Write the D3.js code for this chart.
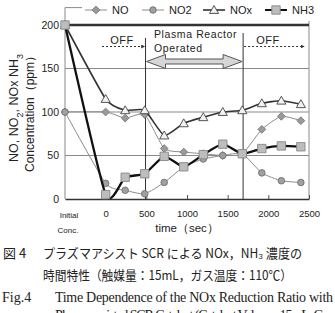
<!DOCTYPE html>
<html>
<head>
<meta charset="utf-8">
<script src="https://cdn.jsdelivr.net/npm/d3@7"></script>
<style>
body { margin: 0; background: #fff; }
svg text { font-family: "Liberation Sans", Arial, sans-serif; fill: #222; }
.cap { font-family: "Liberation Serif", "Noto Sans CJK JP", serif; }
.jp { font-family: "Noto Sans CJK JP", sans-serif; }
</style>
</head>
<body>
<svg id="chart" width="335" height="313"></svg>
<script>
// time in sec, -500 stands for "Initial Conc."
const times = [-500, 0, 240, 480, 720, 960, 1200, 1440, 1680, 1920, 2160, 2400];
const no   = [100, 100, 93, 97, 58, 54, 52, 50, 52, 80, 95, 90];
const no2  = [100, 18, 10, 6, 19, 37, 46, 50, 52, 30, 21, 19];
const nox  = [200, 115, 102, 102, 73, 87, 94, 100, 102, 110, 113, 109];
const nh3  = [200, 5, 25, 29, 49, 37, 51, 63, 52, 58, 61, 60];
const seriesNames = ["NO", "NO2", "NOx", "NH3"];
const xTicks = [0, 500, 1000, 1500, 2000, 2500];
const yTicks = [0, 50, 100, 150, 200];
const plasmaOn = [490, 1690];

const svg = d3.select("#chart");
const x = d3.scaleLinear().domain([-500, 2500]).range([65, 309]);
const y = d3.scaleLinear().domain([0, 220]).range([199, 7.6]);

const styles = {
    NO:  { line: "#8c8c8c", lw: 1,   sym: "diamond",  fill: "#9a9a9a", stroke: "#7a7a7a" },
    NO2: { line: "#8c8c8c", lw: 1,   sym: "circle",   fill: "#a0a0a0", stroke: "#707070" },
    NOx: { line: "#333",    lw: 1.6, sym: "triangle", fill: "#f2f2f2", stroke: "#444" },
    NH3: { line: "#111",    lw: 2.3, sym: "square",   fill: "#bdbdbd", stroke: "#888" }
};
const values = { NO: no, NO2: no2, NOx: nox, NH3: nh3 };

function symbolPath(kind) {
    if (kind === "diamond") return d3.symbol(d3.symbolSquare, 30)();
    if (kind === "circle") return d3.symbol(d3.symbolCircle, 34)();
    if (kind === "triangle") return d3.symbol(d3.symbolTriangle, 36)();
    return d3.symbol(d3.symbolSquare, 70)();
}
function symbolTransform(kind, px, py) {
    var t = "translate(" + px + "," + py + ")";
    if (kind === "diamond") t += " rotate(45)";
    if (kind === "triangle") t = "translate(" + px + "," + (py + 0.8) + ")";
    return t;
}

// frame
svg.append("path")
    .attr("d", "M" + x(-500) + "," + y(0) + "V" + y(220) + "H" + x(2500) + "V" + y(0))
    .attr("fill", "none").attr("stroke", "#8a8a8a").attr("stroke-width", 1);

// grid
svg.append("g").selectAll("line")
    .data(yTicks.filter(function (d) { return d > 0; }))
    .enter().append("line")
    .attr("x1", x(-500)).attr("x2", x(2500))
    .attr("y1", function (d) { return y(d); }).attr("y2", function (d) { return y(d); })
    .attr("stroke", function (d) { return d === 200 ? "#333" : "#8a8a8a"; })
    .attr("stroke-width", function (d) { return d === 200 ? 2.6 : 1.2; });

// plasma on/off boundaries
svg.append("line").attr("x1", x(plasmaOn[0])).attr("x2", x(plasmaOn[0]))
    .attr("y1", 38).attr("y2", y(0)).attr("stroke", "#333").attr("stroke-width", 1);
svg.append("line").attr("x1", x(plasmaOn[1])).attr("x2", x(plasmaOn[1]))
    .attr("y1", 33).attr("y2", y(0)).attr("stroke", "#333").attr("stroke-width", 1);

// x axis
const xAxis = svg.append("g")
    .attr("transform", "translate(0," + y(0) + ")")
    .call(d3.axisBottom(x).tickValues(xTicks).tickFormat(d3.format("d"))
        .tickSizeInner(-4).tickSizeOuter(0).tickPadding(11));
xAxis.select(".domain").attr("stroke", "#333").attr("stroke-width", 1.5);
xAxis.selectAll(".tick line").attr("stroke", "#555");
xAxis.selectAll("text").style("font-size", "9.5px").attr("fill", "#222");

svg.append("text").attr("x", x(-500) + 4).attr("y", 218).attr("text-anchor", "middle")
    .style("font-size", "8px").text("Initial");
svg.append("text").attr("x", x(-500) + 3).attr("y", 233).attr("text-anchor", "middle")
    .style("font-size", "8px").text("Conc.");

// y axis
const yAxis = svg.append("g")
    .attr("transform", "translate(" + x(-500) + ",0)")
    .call(d3.axisLeft(y).tickValues(yTicks).tickSize(0).tickPadding(6));
yAxis.select(".domain").remove();
yAxis.selectAll("text").style("font-size", "10.5px").attr("fill", "#222");

// axis titles
const yt1 = svg.append("text").attr("transform", "translate(17.5,108) rotate(-90)")
    .attr("text-anchor", "middle").style("font-size", "12.5px");
yt1.append("tspan").text("NO, NO");
yt1.append("tspan").attr("baseline-shift", "sub").style("font-size", "9px").text("2");
yt1.append("tspan").text(", NOx NH");
yt1.append("tspan").attr("baseline-shift", "sub").style("font-size", "9px").text("3");
svg.append("text").attr("transform", "translate(34,111) rotate(-90)")
    .attr("text-anchor", "middle").style("font-size", "12px").text("Concentration（ppm）");

svg.append("text").attr("x", 187).attr("y", 232).attr("text-anchor", "middle")
    .style("font-size", "11.5px").text("time（sec）");

// series
const line = d3.line()
    .x(function (d) { return x(d[0]); })
    .y(function (d) { return y(d[1]); })
    .curve(d3.curveCardinal.tension(0.45));

seriesNames.forEach(function (name) {
    var st = styles[name];
    var pts = times.map(function (t, i) { return [t, values[name][i]]; });
    var g = svg.append("g");
    g.append("path").datum(pts)
        .attr("d", line)
        .attr("fill", "none")
        .attr("stroke", st.line)
        .attr("stroke-width", st.lw);
    g.selectAll("path.mk").data(pts).enter().append("path")
        .attr("class", "mk")
        .attr("d", symbolPath(st.sym))
        .attr("transform", function (d) { return symbolTransform(st.sym, x(d[0]), y(d[1])); })
        .attr("fill", st.fill)
        .attr("stroke", st.stroke)
        .attr("stroke-width", 0.9);
});

// annotations
const defs = svg.append("defs");
defs.append("marker").attr("id", "ah").attr("viewBox", "0 0 6 6")
    .attr("refX", 5).attr("refY", 3).attr("markerWidth", 4).attr("markerHeight", 4)
    .attr("orient", "auto")
    .append("path").attr("d", "M0,0L6,3L0,6Z").attr("fill", "#333");

svg.append("line").attr("x1", 102).attr("x2", x(plasmaOn[0]) - 1)
    .attr("y1", 46.5).attr("y2", 46.5)
    .attr("stroke", "#333").attr("stroke-width", 1).attr("stroke-dasharray", "2,2")
    .attr("marker-end", "url(#ah)");
svg.append("text").attr("x", 122).attr("y", 44).attr("text-anchor", "middle")
    .style("font-size", "11px").style("letter-spacing", "0.5px").text("OFF");

svg.append("line").attr("x1", x(plasmaOn[1]) + 1).attr("x2", 304)
    .attr("y1", 46.5).attr("y2", 46.5)
    .attr("stroke", "#333").attr("stroke-width", 1).attr("stroke-dasharray", "2,2")
    .attr("marker-end", "url(#ah)");
svg.append("text").attr("x", 268).attr("y", 44).attr("text-anchor", "middle")
    .style("font-size", "11px").style("letter-spacing", "0.5px").text("OFF");

svg.append("text").attr("x", 154).attr("y", 38)
    .style("font-size", "10.5px").style("letter-spacing", "0.6px").text("Plasma Reactor");
svg.append("text").attr("x", 154).attr("y", 52)
    .style("font-size", "10.5px").style("letter-spacing", "0.6px").text("Operated");

// double block arrow
var ax0 = x(plasmaOn[0]) + 1, ax1 = x(plasmaOn[1]) - 1, ay = 61.5, hl = 19, hh = 7, sh = 2.5;
svg.append("path")
    .attr("d", "M" + ax0 + "," + ay +
        "L" + (ax0 + hl) + "," + (ay - hh) + "L" + (ax0 + hl) + "," + (ay - sh) +
        "L" + (ax1 - hl) + "," + (ay - sh) + "L" + (ax1 - hl) + "," + (ay - hh) +
        "L" + ax1 + "," + ay +
        "L" + (ax1 - hl) + "," + (ay + hh) + "L" + (ax1 - hl) + "," + (ay + sh) +
        "L" + (ax0 + hl) + "," + (ay + sh) + "L" + (ax0 + hl) + "," + (ay + hh) + "Z")
    .attr("fill", "#d6d6d6").attr("stroke", "#555").attr("stroke-width", 1);

// legend
svg.append("rect").attr("x", 82).attr("y", 0).attr("width", 245).attr("height", 21).attr("fill", "#fff");
const legX = [85, 142, 203, 265];
seriesNames.forEach(function (name, i) {
    var st = styles[name];
    var lg = svg.append("g").attr("transform", "translate(" + legX[i] + ",10)");
    lg.append("line").attr("x1", 0).attr("x2", 22).attr("y1", 0).attr("y2", 0)
        .attr("stroke", st.line).attr("stroke-width", Math.min(st.lw, 2));
    lg.append("path").attr("d", symbolPath(st.sym))
        .attr("transform", symbolTransform(st.sym, 11, 0))
        .attr("fill", st.fill).attr("stroke", st.stroke).attr("stroke-width", 0.9);
    lg.append("text").attr("x", 27).attr("y", 4).style("font-size", "11px").text(name);
});

// caption
svg.append("text").attr("class", "jp").attr("x", 3).attr("y", 258)
    .style("font-size", "13px").text("図 4");
svg.append("text").attr("class", "jp").attr("x", 43).attr("y", 258)
    .style("font-size", "13px").attr("textLength", 259).attr("lengthAdjust", "spacingAndGlyphs")
    .text("プラズマアシスト SCR による NOx，NH₃ 濃度の");
svg.append("text").attr("class", "jp").attr("x", 43).attr("y", 280)
    .style("font-size", "13px").attr("textLength", 249).attr("lengthAdjust", "spacingAndGlyphs")
    .text("時間特性（触媒量：15mL，ガス温度：110℃）");
svg.append("text").attr("class", "cap").attr("x", 2).attr("y", 302)
    .style("font-size", "14px").text("Fig.4");
svg.append("text").attr("class", "cap").attr("x", 55).attr("y", 302)
    .style("font-size", "14px").attr("textLength", 278).attr("lengthAdjust", "spacing")
    .text("Time Dependence of the NOx Reduction Ratio with");
svg.append("text").attr("class", "cap").attr("x", 55).attr("y", 320)
    .style("font-size", "14px").attr("textLength", 278).attr("lengthAdjust", "spacing")
    .text("Plasma-assisted SCR Catalyst (Catalyst Volume: 15mL, Gas");
</script>
</body>
</html>
